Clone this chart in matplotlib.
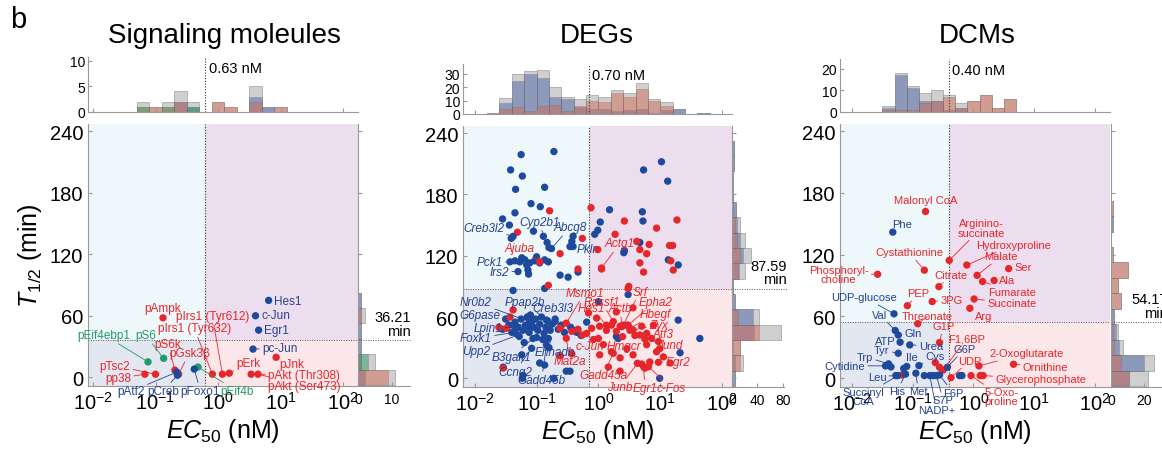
import matplotlib
matplotlib.use('Agg')
import matplotlib.pyplot as plt
from matplotlib.patches import Rectangle
from matplotlib.ticker import FixedLocator, NullLocator, NullFormatter
import numpy as np

plt.rcParams['font.family'] = ['Liberation Sans', 'DejaVu Sans']
plt.rcParams['mathtext.fontset'] = 'custom'
plt.rcParams['mathtext.rm'] = 'Liberation Sans'
plt.rcParams['mathtext.it'] = 'Liberation Sans:italic'
plt.rcParams['mathtext.bf'] = 'Liberation Sans:bold'

# ---------------- data ----------------
# signaling molecules (log10 EC50 [nM], T1/2 [min], group)
sig_names = ['pAmpk', 'pIrs1 (Tyr612)', 'pIrs1 (Tyr632)', 'pS6k', 'pGsk3β', 'pTsc2', 'pp38',
             'pErk', 'pJnk', 'pAkt (Thr308)', 'pAkt (Ser473)',
             'pEif4ebp1', 'pS6', 'pEif4b',
             'Hes1', 'c-Jun', 'Egr1', 'pc-Jun', 'pAtf2', 'pCreb', 'pFoxo1']
sig_log_ec50 = [-0.88, 0.07, -0.09, -0.69, -0.63, -1.00, -1.17, 0.18, 0.93, 0.53, 0.64,
                -1.12, -0.87, -0.32,
                0.81, 0.60, 0.65, 0.56, -0.66, -0.65, -0.38]
sig_t_half = [58, 3, 3, 7, 3, 3, 3, 4, 19.5, 3, 3,
              15, 18.5, 10,
              75, 60, 46, 27.5, 5, 2, 8]
sig_group = ['r'] * 11 + ['g'] * 3 + ['b'] * 7
sig_ec50_thr = 0.63
sig_t_thr = 36.21

# DEGs: labelled genes
deg_label_names = ['Creb3l2', 'Cyp2b1', 'Abcg8', 'Pklr', 'Pck1', 'Irs2', 'Nr0b2', 'Ppap2b',
                   'G6pase', 'Creb3l3', 'Lpin1', 'Foxk1', 'Upp2', 'B3galt1', 'Ehhadh',
                   'Ccng2', 'Gadd45b',
                   'Ajuba', 'Actg1', 'Msmo1', 'Rassf1', 'Srf', 'Hes1', 'Actb', 'Epha2',
                   'Hbegf', 'Zyx', 'Atf3', 'Jund', 'Hmgcr', 'c-Jun', 'Mat2a', 'Egr2',
                   'Gadd45a', 'Junb', 'Egr1', 'c-Fos']
deg_label_log_ec50 = [-1.38, -0.89, -0.76, -0.41, -1.43, -1.30, -1.11, -0.84,
                      -1.14, -0.70, -1.35, -1.35, -1.30, -1.06, -0.81,
                      -1.08, -0.84,
                      -0.95, 0.05, -0.52, 0.24, 0.40, 0.13, 0.38, 0.48,
                      0.51, 0.56, 0.67, 0.75, 0.39, -0.26, -0.52, 0.97,
                      0.24, 0.63, 0.73, 0.81]
deg_label_t_half = [139, 139, 127, 129, 114, 104.5, 55.5, 57,
                    50.6, 55.5, 50, 45, 42.4, 39, 39,
                    29.4, 32.7,
                    114, 108, 54, 55.5, 52, 52, 50.6, 52,
                    49, 47.3, 42.4, 38.5, 40.8, 42.4, 39.2, 15.7,
                    24.5, 14.7, 11.4, 11.4]
deg_label_group = ['b'] * 17 + ['r'] * 20

# DEGs: other genes
deg_blue_log_ec50 = [-1.25, -0.72, -1.42, -1.23, -1.34, -0.87, -1.09, -0.94, -1.35, -1.55,
                     -1.44, -1.05, -1.41, -0.83, -0.80, -0.46, -0.43, -0.41, -0.06, -0.01,
                     0.03, 0.18, 0.71, 0.72, 0.73, 1.02, 1.12, 0.67, 0.42, -1.00,
                     -1.35, -1.27, -1.19, -1.11, -1.03, -0.95, -0.87, -0.81, -1.16, -1.24,
                     -1.14, -1.13, -0.62, -0.49, -0.33, 0.41, 1.13, 1.29, -1.38, -0.87,
                     0.00, 0.48, 1.29, 1.64, 0.99, 0.29, 0.46, -1.54, -1.24, -0.95,
                     -1.22, -0.52, -0.72, -1.23, -0.46, -0.87, -0.19, 0.32, 1.32,
                     -1.35, -1.30, -1.25, -1.22, -1.18, -1.15, -1.12, -1.08, -1.05, -1.02,
                     -0.98, -0.95, -0.92, -0.88, -0.85, -0.82, -0.78, -0.75, -0.70, -0.65,
                     -0.60, -0.55, -0.45, -0.40, -1.40, -1.45, -1.55, -1.50, -1.28, -1.00,
                     -0.90, -1.10, -0.35, -0.28, -1.20, -0.80]
deg_blue_t_half = [219, 222, 204, 198, 185, 187, 171, 168, 162, 156,
                   150, 144, 137, 133, 128, 129, 134, 139, 141, 145,
                   153, 165, 163, 154, 204, 212, 193, 133, 125, 119,
                   115, 114, 116, 113, 115, 113, 116, 114, 111, 118,
                   106, 102, 101, 99, 104, 123, 116, 111, 86, 88,
                   75, 82, 57, 39, 0, 41, 52, 11, 23, 15,
                   3, 7, 0, 0, 7, 13, 55, 39, 25,
                   55, 50, 58, 47, 52, 60, 45, 55, 50, 58,
                   47, 53, 60, 44, 50, 56, 47, 53, 58, 48,
                   52, 45, 50, 47, 45, 52, 48, 58, 41, 40,
                   38, 62, 45, 42, 35, 30]
deg_red_log_ec50 = [-0.79, -1.31, -0.62, -0.12, -0.26, 0.42, 0.27, 0.94, 1.27, 0.62,
                    0.82, 0.67, 1.15, 1.20, -0.01, 0.78, 0.05, -0.33, 0.67, 0.73,
                    1.17, 1.21, -0.81, 0.48, -1.38, -1.43, -1.61, -1.49, -0.62, -0.33,
                    -0.43, -0.62, -0.43, -1.54,
                    -0.16, -0.03, -0.11, 0.02, 0.13, 0.21, 0.29, 0.35, 0.51, 0.59,
                    0.70, 0.78, 0.89, 0.86, -0.08, 0.08, 0.21, 0.35, 0.46, 0.56,
                    0.70, 0.75, 0.83, 0.94, 0.99, 1.05, 1.16, 0.02, -0.19, 0.00,
                    0.16, 0.35, 0.78, 0.97, 0.56, 0.29, 0.49]
deg_red_t_half = [164, 143, 122, 167, 137, 154, 141, 147, 155, 134,
                  131, 126, 130, 130, 126, 122, 107, 107, 113, 104,
                  115, 106, 91, 88, 67, 60, 50, 49, 49, 48,
                  46, 22, 24, 10,
                  64, 59, 49, 51, 47, 52, 46, 51, 47, 42,
                  51, 44, 52, 39, 38, 33, 26, 20, 29, 23,
                  14, 10, 16, 26, 29, 21, 15, 23, 44, 39,
                  11, 7, 33, 36, 69, 65, 90]
deg_ec50_thr = 0.70
deg_t_thr = 87.59

# DEG histograms (counts)
deg_top_edges = np.round(np.arange(-1.8, 1.81, 0.2), 2)
deg_top_blue = [0, 8, 25, 30, 27, 13, 11, 5, 4, 4, 2, 3, 4, 1, 3, 4, 0, 1]
deg_top_red = [1, 4, 5, 2, 6, 7, 2, 6, 10, 9, 16, 13, 19, 10, 6, 0, 0, 0]
deg_right_blue = [4, 5, 1, 35, 33, 4, 1, 11, 17, 12, 8, 6, 1, 2, 3, 3]
deg_right_red = [0, 12, 12, 42, 9, 0, 0, 9, 13, 8, 4, 1, 0, 0, 0, 0]

# DCMs
dcm_names = ['Malonyl CoA', 'Cystathionine', 'Phosphoryl-\ncholine', 'Arginino-\nsuccinate',
             'Hydroxyproline', 'Ser', 'Malate', 'Fumarate', 'Ala', 'Citrate', 'PEP', '3PG',
             'Succinate', 'Arg', 'Threonate', 'G1P', 'F1,6BP', 'UDP', '2-Oxoglutarate',
             'Ornithine', 'Glycerophosphate', '5-Oxo-\nproline',
             'Phe', 'UDP-glucose', 'Val', 'Gln', 'ATP', 'Urea', 'Tyr', 'Ile', 'Cys', 'Trp',
             'Cytidine', 'Leu', 'Succinyl\nCoA', 'His', 'Met', 'NADP+', 'S7P', 'F6P', 'G6P']
dcm_log_ec50 = [-0.79, -0.81, -1.58, -0.40, -0.11, 0.58, 0.06, 0.15, 0.34, -0.57, -1.09, -0.68,
                0.01, -0.06, -0.92, -0.56, -0.50, -0.37, 0.09,
                0.66, 0.16, -0.04,
                -1.33, -1.31, -1.29, -1.24, -1.21, -1.05, -1.24, -1.10, -0.90, -1.40,
                -1.45, -1.28, -1.25, -1.12, -0.95, -0.72, -0.61, -0.56, -0.43]
dcm_t_half = [162, 105, 101, 114.5, 110, 106.5, 100, 94, 95, 89, 70.5, 74.5,
              77, 68, 53, 34.7, 8, 0.6, 12,
              13.6, 2.6, 2.6,
              142, 62.6, 46.4, 42, 35, 32.4, 24.3, 11.5, 12.3, 14,
              12, 2.6, 2.6, 4, 4.9, 2.6, 2.6, 3.2, 10.7]
dcm_group = ['r'] * 22 + ['b'] * 19
dcm_other_log_ec50 = [-0.63, -0.56, 0.11, -1.18, -1.36, -1.15, -0.81, -0.67, -0.23, -0.19]
dcm_other_t_half = [15.2, 10.7, 2.6, 3.2, 11, 9.5, 2.6, 2.6, 2.6, 2.6]
dcm_other_group = ['r', 'r', 'r', 'r', 'b', 'b', 'b', 'b', 'b', 'b']
dcm_ec50_thr = 0.40
dcm_t_thr = 54.17

dcm_top_edges = np.round(np.arange(-1.5, 0.71, 0.2), 2)
dcm_top_blue = [2, 17, 11, 5, 5, 1, 2, 0, 0, 0, 0]
dcm_top_red = [1, 1, 1, 4, 5, 7, 2, 5, 8, 2, 6]
dcm_right_blue = [11, 20, 5, 3, 2, 0, 0, 0, 0, 0, 1, 0, 0, 0, 0, 0]
dcm_right_red = [11, 6, 2, 1, 0, 6, 4, 10, 1, 0, 0, 1, 0, 0, 0, 0]

t_edges = np.arange(-7.5, 240, 15)
sig_top_edges = np.round(np.arange(-1.3, 1.11, 0.2), 2)

# ---------------- label placement (text positions in data coords) ----------------
sig_label_pos = {
    'pAmpk': (-0.88, 68), 'pIrs1 (Tyr612)': (-0.09, 59.5), 'pIrs1 (Tyr632)': (-0.38, 47.7),
    'pEif4ebp1': (-1.82, 41.2), 'pS6': (-1.16, 41.2), 'pS6k': (-0.80, 32.4),
    'pGsk3β': (-0.46, 23.7), 'pTsc2': (-1.65, 11.4), 'pp38': (-1.60, -1),
    'pErk': (0.49, 13.6), 'pJnk': (1.18, 13), 'pAkt (Thr308)': (1.38, 2.6),
    'pAkt (Ser473)': (1.38, -8.1), 'pAtf2': (-1.39, -13.6), 'pCreb': (-0.88, -13.6),
    'pFoxo1': (-0.28, -13.6), 'pEif4b': (0.31, -13.6), 'Hes1': (1.12, 74.6),
    'c-Jun': (0.92, 61), 'Egr1': (0.94, 46), 'pc-Jun': (0.99, 28.2)}
deg_label_pos = {
    'Creb3l2': (-1.86, 147), 'Cyp2b1': (-0.95, 153.5), 'Abcg8': (-0.46, 148),
    'Pklr': (-0.19, 126.4), 'Pck1': (-1.76, 113.6), 'Irs2': (-1.60, 104.5),
    'Nr0b2': (-1.98, 74.4), 'Ppap2b': (-1.19, 74.4), 'G6pase': (-1.92, 62),
    'Creb3l3': (-0.73, 68.6), 'Lpin1': (-1.78, 49), 'Foxk1': (-1.98, 39.2),
    'Upp2': (-1.98, 27.1), 'B3galt1': (-1.41, 21.2), 'Ehhadh': (-0.70, 26.1),
    'Ccng2': (-1.35, 6.5), 'Gadd45b': (-0.92, -1.6),
    'Ajuba': (-1.27, 127.3), 'Actg1': (0.35, 132.2), 'Msmo1': (-0.22, 83.9),
    'Rassf1': (0.05, 75.1), 'Srf': (0.67, 84.9), 'Hes1': (-0.11, 68.6),
    'Actb': (0.35, 68.6), 'Epha2': (0.92, 75.1), 'Hbegf': (0.92, 63),
    'Zyx': (0.97, 52.2), 'Atf3': (1.05, 43.1), 'Jund': (1.16, 32.7),
    'Hmgcr': (0.41, 31.7), 'c-Jun': (-0.14, 31.7), 'Mat2a': (-0.46, 17.3),
    'Egr2': (1.29, 16.3), 'Gadd45a': (0.08, 3.3), 'Junb': (0.35, -8.2),
    'Egr1': (0.75, -9.8), 'c-Fos': (1.18, -9.8)}
dcm_label_pos = {
    'Malonyl CoA': (-0.78, 173), 'Phe': (-1.18, 150), 'Arginino-\nsuccinate': (0.13, 146),
    'Hydroxyproline': (0.66, 129.8), 'Cystathionine': (-1.06, 122.3), 'Malate': (0.45, 118.4),
    'Phosphoryl-\ncholine': (-2.22, 100.6), 'Ser': (0.82, 107.7), 'Citrate': (-0.37, 100.6),
    'Ala': (0.56, 95.1), 'Fumarate': (0.64, 83.7), 'UDP-glucose': (-1.80, 78.8),
    'PEP': (-0.91, 82.7), '3PG': (-0.36, 76.2), 'Succinate': (0.63, 73),
    'Val': (-1.54, 61.6), 'Arg': (0.16, 60.7), 'Threonate': (-0.76, 60),
    'G1P': (-0.50, 50.3), 'Gln': (-0.99, 44.4), 'F1,6BP': (-0.11, 38.9),
    'ATP': (-1.46, 36.3), 'Urea': (-0.70, 31.5), 'G6P': (-0.15, 28.5),
    '2-Oxoglutarate': (0.88, 24.3), 'Tyr': (-1.51, 27.6), 'Trp': (-1.79, 21.1),
    'Ile': (-1.02, 21.1), 'Cys': (-0.63, 21.7), 'UDP': (-0.06, 17.2),
    'Cytidine': (-2.12, 12.3), 'Ornithine': (1.19, 11.4), 'Leu': (-1.59, 1.6),
    'Glycerophosphate': (1.11, -1), 'Succinyl\nCoA': (-1.82, -17.8), 'His': (-1.26, -12.3),
    'Met': (-0.91, -12.3), 'F6P': (-0.34, -13.9), '5-Oxo-\nproline': (0.46, -17.8),
    'S7P': (-0.50, -21.1), 'NADP+': (-0.61, -30.8)}

# ---------------- styles ----------------
W, H = 1162, 460
DOT = {'r': '#e5262b', 'b': '#1d4a9c', 'g': '#1f9a68'}
TXT = {'r': '#e8262b', 'b': '#24438f', 'g': '#26996a'}
HIST = {'b': '#4a64a8', 'r': '#d46a55', 'g': '#2f9a66'}
QUAD = {'tl': '#eef7f9', 'bl': '#e3e7f1', 'tr': '#ecdeee', 'br': '#fbe7e9'}
SPINE = '#999999'


def rect(l, t, r, b):
    return [l / W, 1 - b / H, (r - l) / W, (b - t) / H]


def style_axes(ax):
    for s in ['top', 'right']:
        ax.spines[s].set_visible(False)
    for s in ['left', 'bottom']:
        ax.spines[s].set_color(SPINE)
        ax.spines[s].set_linewidth(0.8)
    ax.tick_params(direction='in', color=SPINE, length=3, width=0.8)


def draw_panel(px_main, px_top, px_right, xlim, ec_thr, t_thr,
               points, labels, label_pos, label_size, label_style,
               top_edges, top_counts, top_ylim, top_yticks,
               right_counts, right_xlim, right_xticks, thr_text_x):
    ylim = (-8.5, 247)
    lo, hi = 10 ** xlim[0], 10 ** xlim[1]

    # ---- main scatter ----
    ax = fig.add_axes(rect(*px_main))
    ax.set_xscale('log')
    ax.set_xlim(lo, hi)
    ax.set_ylim(*ylim)
    ax.patch.set_visible(False)
    ax.add_patch(Rectangle((lo, t_thr), ec_thr - lo, ylim[1] - t_thr, color=QUAD['tl'], zorder=0, lw=0))
    ax.add_patch(Rectangle((lo, ylim[0]), ec_thr - lo, t_thr - ylim[0], color=QUAD['bl'], zorder=0, lw=0))
    ax.add_patch(Rectangle((ec_thr, t_thr), hi - ec_thr, ylim[1] - t_thr, color=QUAD['tr'], zorder=0, lw=0))
    ax.add_patch(Rectangle((ec_thr, ylim[0]), hi - ec_thr, t_thr - ylim[0], color=QUAD['br'], zorder=0, lw=0))
    ax.axvline(ec_thr, color='#333333', ls=(0, (1, 1.5)), lw=0.8, zorder=1)
    ax.axhline(t_thr, color='#555555', ls=(0, (1, 1.5)), lw=0.7, zorder=1)
    for lx, ty, g in points:
        ax.scatter(10 ** np.asarray(lx), ty, s=28, c=[DOT[k] for k in g], lw=0, zorder=3)
    for name, lx, ty, g in labels:
        tx, tt = label_pos[name]
        ax.annotate(name, xy=(10 ** lx, ty), xytext=(10 ** tx, tt), ha='center', va='center',
                    fontsize=label_size, color=TXT[g], style=label_style, linespacing=0.9,
                    annotation_clip=False, zorder=4,
                    arrowprops=dict(arrowstyle='-', color=TXT[g], lw=0.6, shrinkA=0, shrinkB=2.5))
    style_axes(ax)
    ax.xaxis.set_major_locator(FixedLocator([1e-2, 1e-1, 1, 10, 100]))
    ax.xaxis.set_minor_locator(NullLocator())
    ax.set_yticks([0, 60, 120, 180, 240])
    ax.tick_params(labelsize=14.5)
    ax.set_xlabel(r'$EC_{50}$ (nM)', fontsize=18, labelpad=2)

    # ---- top histogram ----
    axt = fig.add_axes(rect(*px_top))
    axt.set_xscale('log')
    axt.set_xlim(lo, hi)
    left = 10 ** top_edges[:-1]
    width = 10 ** top_edges[1:] - left
    total = np.sum([c for c, _ in top_counts], axis=0)
    axt.bar(left, total, width=width, align='edge', color='#c4c4c4', alpha=0.8,
            edgecolor='#8a8a8a', lw=0.5)
    for c, g in top_counts:
        axt.bar(left, c, width=width, align='edge', color=HIST[g], alpha=0.5,
                edgecolor='#6a6a6a', lw=0.4)
    axt.axvline(ec_thr, color='#333333', ls=(0, (1, 1.5)), lw=0.8)
    axt.text(ec_thr * 1.12, top_ylim[1] * 0.93, f'{ec_thr:.2f} nM', fontsize=10.5, va='top')
    axt.set_ylim(*top_ylim)
    axt.set_yticks(top_yticks)
    axt.patch.set_visible(False)
    style_axes(axt)
    axt.xaxis.set_major_locator(FixedLocator([1e-2, 1e-1, 1, 10, 100]))
    axt.xaxis.set_minor_locator(NullLocator())
    axt.xaxis.set_major_formatter(NullFormatter())
    axt.tick_params(labelsize=10, pad=2)

    # ---- right histogram ----
    axr = fig.add_axes(rect(*px_right))
    axr.set_ylim(*ylim)
    total = np.sum([c for c, _ in right_counts], axis=0)
    axr.barh(t_edges[:-1], total, height=15, align='edge', color='#c4c4c4', alpha=0.8,
             edgecolor='#8a8a8a', lw=0.5)
    for c, g in right_counts:
        axr.barh(t_edges[:-1], c, height=15, align='edge', color=HIST[g], alpha=0.5,
                 edgecolor='#6a6a6a', lw=0.4)
    axr.axhline(t_thr, color='#555555', ls=(0, (1, 1.5)), lw=0.7, xmax=thr_text_x, clip_on=False)
    axr.text(thr_text_x, t_thr + 2.5, f'{t_thr:.2f}\nmin', transform=axr.get_yaxis_transform(),
             ha='right', va='bottom', fontsize=10.5, linespacing=0.95, multialignment='right')
    axr.set_xlim(*right_xlim)
    axr.set_xticks(right_xticks)
    axr.set_yticks([0, 60, 120, 180, 240])
    axr.yaxis.set_major_formatter(NullFormatter())
    axr.patch.set_visible(False)
    style_axes(axr)
    axr.tick_params(labelsize=10, pad=4)


fig = plt.figure(figsize=(W / 100, H / 100), dpi=100)

# signaling molecules histograms from the points
sig_lx = np.array(sig_log_ec50)
sig_t = np.array(sig_t_half)
sig_g = np.array(sig_group)
sig_top = [(np.histogram(sig_lx[sig_g == g], sig_top_edges)[0], g) for g in ['b', 'r', 'g']]
sig_right = [(np.histogram(sig_t[sig_g == g], t_edges)[0], g) for g in ['b', 'r', 'g']]

draw_panel((88, 125, 358, 387), (88, 58, 358, 113), (358, 125, 410, 387), (-2.08, 2.24),
           sig_ec50_thr, sig_t_thr,
           [(sig_log_ec50, sig_t_half, sig_group)],
           list(zip(sig_names, sig_log_ec50, sig_t_half, sig_group)), sig_label_pos, 8.5, 'normal',
           sig_top_edges, sig_top, (0, 10.7), [0, 5, 10],
           sig_right, (0, 15.4), [0, 10], 1.02)

draw_panel((463, 127, 732, 388), (463, 65, 732, 115), (732, 127, 784, 388), (-2.19, 2.16),
           deg_ec50_thr, deg_t_thr,
           [(deg_blue_log_ec50, deg_blue_t_half, ['b'] * len(deg_blue_t_half)),
            (deg_red_log_ec50, deg_red_t_half, ['r'] * len(deg_red_t_half)),
            (deg_label_log_ec50, deg_label_t_half, deg_label_group)],
           list(zip(deg_label_names, deg_label_log_ec50, deg_label_t_half, deg_label_group)),
           deg_label_pos, 8.5, 'italic',
           deg_top_edges, [(np.array(deg_top_blue), 'b'), (np.array(deg_top_red), 'r')],
           (0, 37.5), [0, 10, 20, 30],
           [(np.array(deg_right_blue), 'b'), (np.array(deg_right_red), 'r')],
           (0, 82), [0, 40, 80], 1.05)

draw_panel((840, 125, 1110, 388), (840, 60, 1110, 113), (1111, 125, 1162, 388), (-2.2, 2.25),
           dcm_ec50_thr, dcm_t_thr,
           [(dcm_other_log_ec50, dcm_other_t_half, dcm_other_group),
            (dcm_log_ec50, dcm_t_half, dcm_group)],
           list(zip(dcm_names, dcm_log_ec50, dcm_t_half, dcm_group)), dcm_label_pos, 8, 'normal',
           dcm_top_edges, [(np.array(dcm_top_blue), 'b'), (np.array(dcm_top_red), 'r')],
           (0, 24.6), [0, 10, 20],
           [(np.array(dcm_right_blue), 'b'), (np.array(dcm_right_red), 'r')],
           (0, 30.5), [0, 20], 1.12)

fig.text(30 / W, 1 - 256 / H, r'$T_{1/2}$ (min)', fontsize=18, rotation=90, ha='center', va='center')
fig.text(18 / W, 1 - 20 / H, 'b', fontsize=21, ha='center', va='center')
fig.text(224 / W, 1 - 36 / H, 'Signaling moleules', fontsize=20, ha='center', va='center')
fig.text(597 / W, 1 - 36 / H, 'DEGs', fontsize=20, ha='center', va='center')
fig.text(977 / W, 1 - 36 / H, 'DCMs', fontsize=20, ha='center', va='center')

fig.savefig('out.png', dpi=100)
